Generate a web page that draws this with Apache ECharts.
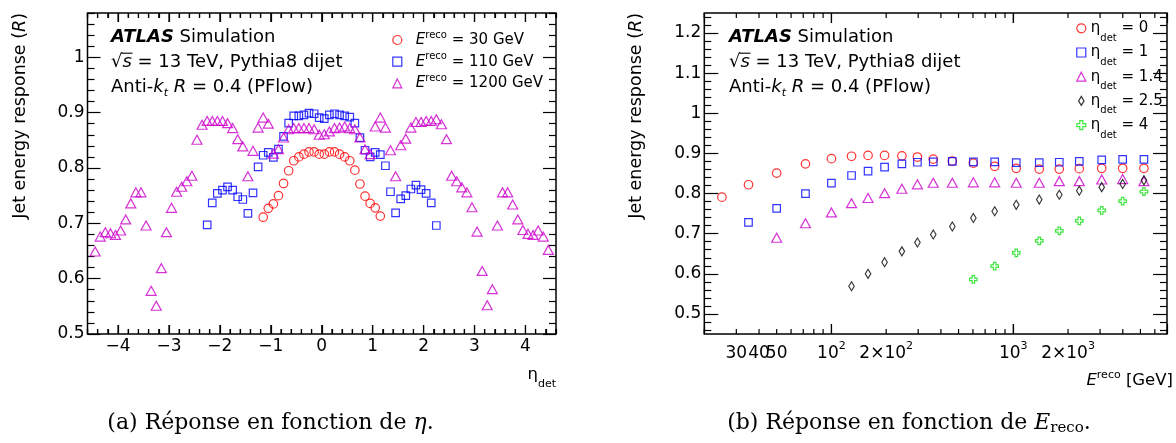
<!DOCTYPE html>
<html>
<head>
<meta charset="utf-8">
<script src="https://cdn.jsdelivr.net/npm/echarts@6.0.0/dist/echarts.min.js"></script>
<style>
html,body{margin:0;padding:0;background:#ffffff;}
#wrap{position:relative;width:1176px;height:443px;}
#chartA{position:absolute;left:0;top:0;width:588px;height:443px;}
#chartB{position:absolute;left:588px;top:0;width:588px;height:443px;}
</style>
</head>
<body>
<div id="wrap"><div id="chartA"></div><div id="chartB"></div></div>
<script>
// ===================== Panel (a): response vs eta_det =====================
const eta30 = [-1.15,-1.05,-0.95,-0.85,-0.75,-0.65,-0.55,-0.45,-0.35,-0.25,-0.15,-0.05,
               0.05,0.15,0.25,0.35,0.45,0.55,0.65,0.75,0.85,0.95,1.05,1.15];
const resp30 = [0.711,0.727,0.735,0.750,0.772,0.795,0.813,0.820,0.825,0.829,0.829,0.825,
                0.825,0.829,0.829,0.825,0.820,0.813,0.796,0.771,0.749,0.736,0.728,0.713];

const eta110 = [-2.25,-2.15,-2.05,-1.95,-1.85,-1.75,-1.65,-1.55,-1.45,-1.35,-1.25,-1.15,-1.05,-0.95,-0.85,-0.75,-0.65,-0.55,-0.45,-0.35,-0.25,-0.15,-0.05,
                0.05,0.15,0.25,0.35,0.45,0.55,0.65,0.75,0.85,0.95,1.05,1.15,1.25,1.35,1.45,1.55,1.65,1.75,1.85,1.95,2.05,2.15,2.25];
const resp110 = [0.697,0.737,0.754,0.760,0.766,0.760,0.748,0.743,0.718,0.755,0.802,0.823,0.828,0.819,0.834,0.857,0.881,0.894,0.894,0.896,0.899,0.898,0.891,
                 0.889,0.896,0.898,0.896,0.894,0.892,0.881,0.855,0.832,0.820,0.828,0.824,0.804,0.757,0.719,0.744,0.750,0.762,0.769,0.761,0.754,0.737,0.696];

const eta1200 = [-4.45,-4.35,-4.25,-4.15,-4.05,-3.95,-3.85,-3.75,-3.65,-3.55,-3.45,-3.35,-3.25,-3.15,-3.05,
                 -2.95,-2.85,-2.75,-2.65,-2.55,-2.45,-2.35,-2.25,-2.15,-2.05,-1.95,-1.85,-1.75,-1.65,-1.55,
                 -1.45,-1.35,-1.25,-1.15,-1.05,-0.95,-0.85,-0.75,-0.65,-0.55,-0.45,-0.35,-0.25,-0.15,-0.05,
                 0.05,0.15,0.25,0.35,0.45,0.55,0.65,0.75,0.85,0.95,1.05,1.15,1.25,1.35,1.45,
                 1.55,1.65,1.75,1.85,1.95,2.05,2.15,2.25,2.35,2.45,2.55,2.65,2.75,2.85,2.95,
                 3.05,3.15,3.25,3.35,3.45,3.55,3.65,3.75,3.85,3.95,4.05,4.15,4.25,4.35,4.45];
const resp1200 = [0.649,0.676,0.684,0.682,0.679,0.687,0.707,0.736,0.756,0.756,0.696,0.578,0.551,0.619,0.684,
                  0.728,0.757,0.766,0.776,0.786,0.851,0.878,0.885,0.885,0.885,0.885,0.881,0.872,0.852,0.839,
                  0.785,0.831,0.873,0.891,0.880,0.826,0.834,0.855,0.870,0.872,0.872,0.872,0.872,0.870,0.860,
                  0.861,0.866,0.872,0.873,0.875,0.872,0.870,0.855,0.834,0.825,0.875,0.891,0.873,0.832,0.785,
                  0.841,0.853,0.873,0.883,0.883,0.885,0.885,0.888,0.879,0.852,0.786,0.776,0.765,0.756,0.729,
                  0.685,0.614,0.552,0.581,0.696,0.756,0.756,0.734,0.707,0.688,0.681,0.679,0.687,0.676,0.652];

const etaTicks = [-4,-3,-2,-1,0,1,2,3,4];
const respTicksA = [0.5,0.6,0.7,0.8,0.9,1];

// ===================== Panel (b): response vs E_reco =====================
const eReco0   = [25,35,50,72,100,129,159,196,244,297,363,462,603,790,1038,1389,1790,2306,3063,3993,5227];
const respEta0 = [0.791,0.822,0.851,0.874,0.887,0.893,0.895,0.895,0.894,0.891,0.886,0.881,0.876,0.868,0.863,0.861,0.861,0.862,0.863,0.863,0.863];
const eReco1   = [35,50,72,100,129,159,196,244,297,363,462,603,790,1038,1389,1790,2306,3063,3993,5227];
const respEta1 = [0.728,0.763,0.800,0.826,0.845,0.856,0.866,0.874,0.878,0.879,0.880,0.879,0.879,0.877,0.877,0.878,0.880,0.884,0.885,0.885];
const eReco14   = [50,72,100,129,159,196,244,297,363,462,603,790,1038,1389,1790,2306,3063,3993,5227];
const respEta14 = [0.690,0.726,0.753,0.776,0.789,0.801,0.812,0.823,0.827,0.827,0.828,0.828,0.827,0.827,0.831,0.831,0.835,0.836,0.831];
const eReco25   = [129,159,196,244,297,363,462,603,790,1038,1389,1790,2306,3063,3993,5227];
const respEta25 = [0.569,0.600,0.629,0.656,0.678,0.698,0.718,0.739,0.756,0.772,0.785,0.797,0.807,0.816,0.824,0.833];
const eReco4   = [603,790,1038,1389,1790,2306,3063,3993,5227];
const respEta4 = [0.586,0.619,0.652,0.682,0.707,0.732,0.758,0.781,0.805];

const energyLabels = [30,40,50,100,200,1000,2000];
const energyMajorTicks = [100,1000];
const energyMinorTicks = [20,30,40,50,60,70,80,90,200,300,400,500,600,700,800,900,2000,3000,4000,5000,6000,7000];
const respTicksB = [0.5,0.6,0.7,0.8,0.9,1,1.1,1.2];

// ===================== helpers =====================
const F = 'DejaVu Sans';
const FS = 18;
const LBL = 17;
const LEG = 15;
const tickLine = {color:'#000', width:1.2};
function pairs(xs, ys){ return xs.map((x,i)=>[x, ys[i]]); }
const minorA = [];
for (let k = 26; k <= 54; k++) { if (k % 5 !== 0) minorA.push(Math.round(k*2)/100); }
const minorB = [];
for (let k = 23; k <= 62; k++) { if (k % 5 !== 0) minorB.push(Math.round(k*2)/100); }
const minorEta = [];
for (let k = -23; k <= 23; k++) { if (k % 5 !== 0) minorEta.push(Math.round(k*2)/10); }
function fmtNum(v){ const r = Math.round(v*100)/100; return r < 0 ? '\u2212' + Math.abs(r) : String(r); }

function tickAxis(base, len, extraTick){
  return Object.assign({
    axisLine:{show:false, onZero:false}, splitLine:{show:false}, axisLabel:{show:false},
    axisTick:Object.assign({show:true, inside:true, length:len, lineStyle:tickLine}, extraTick || {})
  }, base);
}

// x-axis tick marks: thin bars placed through the axis scale at the frame edge (pointing inward)
function tickBars(values, yEdge, len, inward){
  return {type:'scatter', name:'ticks', silent:true, clip:false, z:3, legendHoverLink:false,
    data:values.map(v => [v, yEdge]), symbol:'rect', symbolSize:[1.2, len],
    symbolOffset:[0, inward * len / 2], itemStyle:{color:'#000', borderWidth:0, opacity:1},
    emphasis:{disabled:true}, tooltip:{show:false}};
}

const RED = '#ff0000', BLUE = '#0000ff', MAG = '#cc00cc', BLK = '#000000', GRN = '#11dd11';
const CROSS = 'path://M1,0 L2,0 L2,1 L3,1 L3,2 L2,2 L2,3 L1,3 L1,2 L0,2 L0,1 L1,1 Z';
const NDIAM = 'path://M0,-1.65 L1,0 L0,1.65 L-1,0 Z';
function sc(name, data, symbol, size, color){
  return {type:'scatter', name:name, data:data, xAxisIndex:0, yAxisIndex:0, symbol:symbol, symbolSize:size, z:5,
    color:color, itemStyle:{color:'rgba(0,0,0,0)', borderColor:color, borderWidth:1.2}, emphasis:{disabled:true}, silent:true};
}

function annot(x){
  return [
    {type:'text', x:x, y:37, silent:true, style:{text:'{b|ATLAS} Simulation', fontFamily:F, fontSize:FS, fill:'#000', verticalAlign:'middle',
      rich:{b:{fontFamily:F, fontSize:FS, fontWeight:'bold', fontStyle:'italic', fill:'#000'}}}},
    {type:'text', x:x, y:62, silent:true, style:{text:'\u221a{i|s} = 13 TeV, Pythia8 dijet', fontFamily:F, fontSize:FS, fill:'#000', verticalAlign:'middle',
      rich:{i:{fontFamily:F, fontSize:FS, fontStyle:'italic', fill:'#000'}}}},
    {type:'line', silent:true, shape:{x1:x+10.2, y1:53.2, x2:x+21.5, y2:53.2}, style:{stroke:'#000', lineWidth:1.1}},
    {type:'text', x:x, y:87, silent:true, style:{text:'Anti-{i|k}{isub|t} {i|R} = 0.4 (PFlow)', fontFamily:F, fontSize:FS, fill:'#000', verticalAlign:'middle', lineHeight:24,
      rich:{i:{fontFamily:F, fontSize:FS, fontStyle:'italic', fill:'#000', lineHeight:24},
            isub:{fontFamily:F, fontSize:11, fontStyle:'italic', fill:'#000', lineHeight:12, verticalAlign:'bottom'}}}}
  ];
}
function yTitle(x){
  return {type:'text', x:x, y:13, rotation:Math.PI/2, silent:true,
    style:{text:'Jet energy response ({i|R})', fontFamily:F, fontSize:17.5, fill:'#000', align:'right', verticalAlign:'middle',
      rich:{i:{fontFamily:F, fontSize:17.5, fontStyle:'italic', fill:'#000'}}}};
}

// ---------------- chart (a) ----------------
const optionA = {
  animation:false,
  backgroundColor:'#ffffff',
  grid:{left:87.5, top:13, width:468.5, height:321, show:true, borderColor:'#000', borderWidth:1.5},
  xAxis:[
    tickAxis({type:'value', position:'bottom', min:-4.6, max:4.6,
      axisLabel:{show:true, customValues:etaTicks, formatter:fmtNum, color:'#000', fontFamily:F, fontSize:LBL, margin:4}},
      9, {customValues:etaTicks}),
    tickAxis({type:'value', position:'bottom', min:-4.6, max:4.6}, 5, {customValues:minorEta}),
    tickAxis({type:'value', position:'top', min:-4.6, max:4.6}, 9, {customValues:etaTicks}),
    tickAxis({type:'value', position:'top', min:-4.6, max:4.6}, 5, {customValues:minorEta})
  ],
  yAxis:[
    tickAxis({type:'value', position:'left', min:0.5, max:1.08,
      axisLabel:{show:true, customValues:respTicksA, formatter:fmtNum, color:'#000', fontFamily:F, fontSize:LBL, margin:3}},
      13, {customValues:respTicksA}),
    tickAxis({type:'value', position:'left', min:0.5, max:1.08}, 7, {customValues:minorA}),
    tickAxis({type:'value', position:'right', min:0.5, max:1.08}, 13, {customValues:respTicksA}),
    tickAxis({type:'value', position:'right', min:0.5, max:1.08}, 7, {customValues:minorA})
  ],
  legend:{data:['E30','E110','E1200'], orient:'vertical', left:392.2, top:30, padding:0, itemGap:1.7, itemWidth:9, itemHeight:9,
     selectedMode:false, itemStyle:{borderWidth:1.2},
     formatter:function(n){ return '{i|E}{sup|reco} = ' + ({E30:'30', E110:'110', E1200:'1200'})[n] + ' GeV'; },
     textStyle:{fontFamily:F, fontSize:LEG, color:'#000', lineHeight:20, padding:[0,0,0,9],
       rich:{i:{fontFamily:F, fontSize:LEG, fontStyle:'italic', color:'#000', lineHeight:20},
             sup:{fontFamily:F, fontSize:10, color:'#000', lineHeight:10, verticalAlign:'top'}}}},
  series:[
    sc('E30', pairs(eta30, resp30), 'circle', 8.5, RED),
    sc('E110', pairs(eta110, resp110), 'rect', 7.5, BLUE),
    sc('E1200', pairs(eta1200, resp1200), 'triangle', [10, 9], MAG),
    tickBars(etaTicks, 0.5, 9, -1),
    tickBars(minorEta, 0.5, 5, -1),
    tickBars(etaTicks, 1.08, 9, 1),
    tickBars(minorEta, 1.08, 5, 1)
  ],
  graphic:[].concat(annot(111), [yTitle(20),
    {type:'text', x:556, y:375, silent:true, style:{text:'\u03b7{sub|det}', fontFamily:F, fontSize:16.5, fill:'#000', align:'right', verticalAlign:'middle', lineHeight:30,
      rich:{sub:{fontFamily:F, fontSize:11, fill:'#000', lineHeight:10, verticalAlign:'bottom'}}}},
    {type:'text', x:270.5, y:423, silent:true, style:{text:'(a) Réponse en fonction de {m|\u03b7}.', fontFamily:'DejaVu Serif', fontSize:22, fill:'#000', align:'center', verticalAlign:'middle',
      rich:{m:{fontFamily:'DejaVu Serif', fontSize:22, fontStyle:'italic', fill:'#000'}}}}
  ])
};

// ---------------- chart (b) ----------------
const optionB = {
  animation:false,
  backgroundColor:'#ffffff',
  grid:{left:116.3, top:13, width:462.7, height:321, show:true, borderColor:'#000', borderWidth:1.5},
  xAxis:[
    tickAxis({type:'log', logBase:10, position:'bottom', min:20, max:7000,
      axisLabel:{show:true, customValues:energyLabels, color:'#000', fontFamily:F, fontSize:LBL, margin:7, lineHeight:26,
        formatter:function(v){ const r = Math.round(v);
          if (r===100) return '10{sup|2}'; if (r===1000) return '10{sup|3}';
          if (r===200) return '2\u00d710{sup|2}'; if (r===2000) return '2\u00d710{sup|3}';
          return String(r); },
        rich:{sup:{fontSize:11, fontFamily:F, color:'#000', lineHeight:12, verticalAlign:'top'}}}},
      10),
    tickAxis({type:'log', logBase:10, position:'top', min:20, max:7000}, 10)
  ],
  yAxis:[
    tickAxis({type:'value', position:'left', min:0.45, max:1.25,
      axisLabel:{show:true, customValues:respTicksB, formatter:fmtNum, color:'#000', fontFamily:F, fontSize:LBL, margin:3}},
      14, {customValues:respTicksB}),
    tickAxis({type:'value', position:'left', min:0.45, max:1.25}, 7, {customValues:minorB}),
    tickAxis({type:'value', position:'right', min:0.45, max:1.25}, 14, {customValues:respTicksB}),
    tickAxis({type:'value', position:'right', min:0.45, max:1.25}, 7, {customValues:minorB})
  ],
  legend:{data:['eta0','eta1','eta14','eta25','eta4'], orient:'vertical', left:488.2, top:13.3, padding:0, itemGap:-5.8, itemWidth:9, itemHeight:9,
     selectedMode:false, itemStyle:{borderWidth:1.2},
     formatter:function(n){ return '\u03b7{sub|det} = ' + ({eta0:'0', eta1:'1', eta14:'1.4', eta25:'2.5', eta4:'4'})[n]; },
     textStyle:{fontFamily:F, fontSize:LEG, color:'#000', lineHeight:30,
       rich:{sub:{fontFamily:F, fontSize:10, color:'#000', lineHeight:10, verticalAlign:'bottom'}}}},
  series:[
    sc('eta0', pairs(eReco0, respEta0), 'circle', 8.5, RED),
    sc('eta1', pairs(eReco1, respEta1), 'rect', 7.5, BLUE),
    sc('eta14', pairs(eReco14, respEta14), 'triangle', [10, 9], MAG),
    sc('eta25', pairs(eReco25, respEta25), NDIAM, [5.5, 9], BLK),
    sc('eta4', pairs(eReco4, respEta4), CROSS, 7.5, GRN),
    tickBars(energyMajorTicks, 0.45, 10, -1),
    tickBars(energyMinorTicks, 0.45, 5, -1),
    tickBars(energyMajorTicks, 1.25, 10, 1),
    tickBars(energyMinorTicks, 1.25, 5, 1)
  ],
  graphic:[].concat(annot(141), [yTitle(48),
    {type:'text', x:585, y:381, silent:true, style:{text:'{i|E}{sup|reco} [GeV]', fontFamily:F, fontSize:16.5, fill:'#000', align:'right', verticalAlign:'middle', lineHeight:22,
      rich:{i:{fontFamily:F, fontSize:16.5, fontStyle:'italic', fill:'#000', lineHeight:22},
            sup:{fontFamily:F, fontSize:11, fill:'#000', lineHeight:10, verticalAlign:'top'}}}},
    {type:'text', x:321, y:423, silent:true, style:{text:'(b) Réponse en fonction de {m|E}{s|reco}.', fontFamily:'DejaVu Serif', fontSize:22, fill:'#000', align:'center', verticalAlign:'middle', lineHeight:26,
      rich:{m:{fontFamily:'DejaVu Serif', fontSize:22, fontStyle:'italic', fill:'#000', lineHeight:26},
            s:{fontFamily:'DejaVu Serif', fontSize:15, fill:'#000', lineHeight:14, verticalAlign:'bottom'}}}}
  ])
};

echarts.init(document.getElementById('chartA'), null, {renderer:'canvas'}).setOption(optionA);
echarts.init(document.getElementById('chartB'), null, {renderer:'canvas'}).setOption(optionB);
</script>
</body>
</html>
